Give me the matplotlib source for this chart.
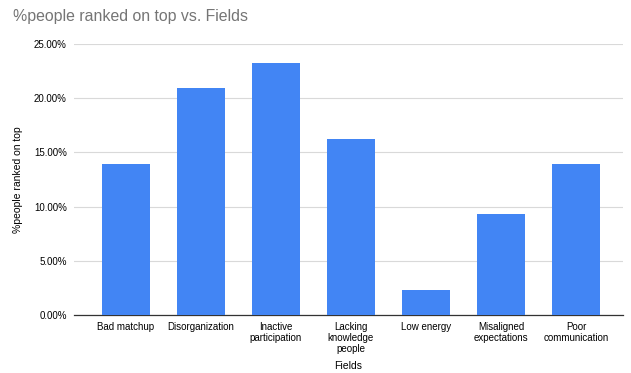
import matplotlib
matplotlib.use('Agg')
import matplotlib.pyplot as plt
from matplotlib.ticker import PercentFormatter

fields = ['Bad matchup', 'Disorganization', 'Inactive\nparticipation',
          'Lacking\nknowledge\npeople', 'Low energy', 'Misaligned\nexpectations',
          'Poor\ncommunication']
pct_top = [13.95, 20.93, 23.26, 16.28, 2.33, 9.30, 13.95]
y_ticks = [0, 5, 10, 15, 20, 25]

plt.rcParams['font.family'] = ['Liberation Sans', 'DejaVu Sans']

fig = plt.figure(figsize=(6.31, 3.73), dpi=100)
ax = fig.add_axes([0.117, 0.155, 0.870, 0.727])

x = range(len(fields))
ax.bar(x, pct_top, width=0.64, color='#4285F4', zorder=3)

ax.set_xlim(-0.69, 6.62)
ax.set_ylim(0, 25)
ax.set_yticks(y_ticks)
ax.yaxis.set_major_formatter(PercentFormatter(decimals=2))
ax.set_xticks(list(x))
ax.set_xticklabels(fields, fontsize=7.0, linespacing=1.1)
ax.tick_params(axis='y', labelsize=7.0, length=0, pad=5)
ax.tick_params(axis='x', length=0, pad=5)

ax.grid(axis='y', color='#d9d9d9', linewidth=0.8, zorder=0)
for side in ['top', 'right', 'left']:
    ax.spines[side].set_visible(False)
ax.spines['bottom'].set_color('#333333')
ax.spines['bottom'].set_linewidth(0.9)

ax.set_xlabel('Fields', fontsize=7.5, labelpad=5)
ax.set_ylabel('%people ranked on top', fontsize=7.5, labelpad=8)

fig.text(0.021, 0.955, '%people ranked on top vs. Fields', fontsize=11.4,
         color='#757575', va='center', ha='left')

fig.savefig('out.png', dpi=100)
